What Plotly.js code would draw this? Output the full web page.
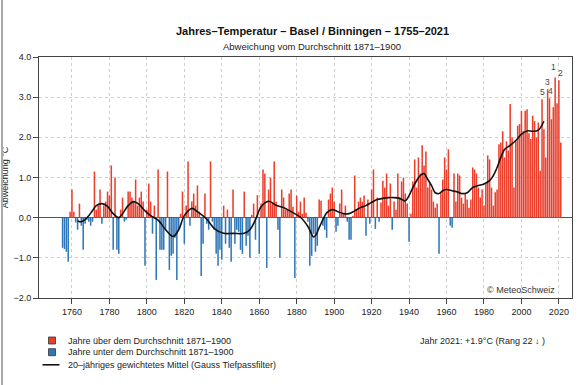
<!DOCTYPE html>
<html>
<head>
<meta charset="utf-8">
<script src="https://cdn.plot.ly/plotly-3.0.1.min.js"></script>
<style>
  html, body { margin: 0; padding: 0; background: #fff; }
  #chart { width: 582px; height: 385px; }
  #edge { position: absolute; left: 1px; top: 0; width: 2px; height: 385px; background: #aaa; }
</style>
</head>
<body>
<div id="chart"></div>
<div id="edge"></div>
<script>
// ---- Data (annual temperature anomaly vs 1871-1900, °C) ----
const firstYear = 1755;
const anomalies = [
  // 1755-1764
  -0.75, -0.78, -0.85, -1.10, 0.15, 0.70, 0.15, -0.12, -0.30, 0.35,
  // 1765-1774
  -0.20, -0.80, -0.15, -0.05, -0.10, -0.20, -0.10, 1.15, 0.20, 0.30,
  // 1775-1784
  0.70, -0.15, 0.30, 0.40, 0.65, 0.55, 1.30, -0.80, 1.00, -0.80,
  // 1785-1794
  -0.90, 0.20, 0.50, -0.10, -0.05, 0.65, 0.65, 0.50, 0.40, 0.95,
  // 1795-1804
  0.30, 0.50, 0.65, 0.40, -1.20, 0.20, 0.85, 0.40, -0.40, 0.30,
  // 1805-1814
  -1.55, 1.20, -0.80, -0.80, -0.80, -0.30, 1.15, -1.30, -0.95, -0.90,
  // 1815-1824
  -0.50, -1.55, -0.30, 0.10, 0.65, -0.65, 0.30, 1.40, -0.20, 0.40,
  // 1825-1834
  0.60, 0.30, 0.80, 0.15, -1.45, -0.65, 0.60, -0.15, -0.30, 1.40,
  // 1835-1844
  -0.10, -0.30, -0.90, -1.20, -0.80, -1.05, 0.30, -0.65, 0.20, -0.75,
  // 1845-1854
  -1.10, 0.70, -0.65, -0.30, -0.35, -0.80, -0.90, 0.65, -0.70, -0.45,
  // 1855-1864
  -1.00, 0.07, 0.35, -0.55, 0.56, -0.90, 0.35, 1.20, 1.10, -1.25,
  // 1865-1874
  0.70, 1.00, 0.35, 1.40, 0.40, -0.30, -1.00, 0.70, 0.50, 0.20,
  // 1875-1884
  0.20, 0.60, 0.70, 0.27, -1.50, 0.55, 0.15, 0.40, 0.10, 0.50,
  // 1885-1894
  0.12, -0.10, -1.20, -0.95, -0.40, -0.85, -0.70, 0.45, 0.42, -0.20,
  // 1895-1904
  -0.30, -0.50, 0.45, 0.60, 0.75, 0.40, -0.35, -0.20, 0.35, 0.70,
  // 1905-1914
  0.10, 0.30, -0.10, -0.55, -0.55, 0.05, 1.05, 0.20, 0.40, 0.50,
  // 1915-1924
  0.40, 0.55, -0.45, 0.45, -0.15, 0.70, 1.20, -0.28, 0.50, -0.10,
  // 1925-1934
  0.38, 0.92, 0.75, 1.10, 0.30, 0.85, -0.30, 0.40, 0.20, 1.10,
  // 1935-1944
  0.50, 0.90, 1.00, 0.60, 0.35, -0.60, 0.10, 0.90, 1.45, 0.75,
  // 1945-1954
  1.50, 1.10, 1.80, 1.30, 1.65, 0.75, 0.85, 0.70, 0.40, 0.25,
  // 1955-1964
  0.35, -0.90, 0.60, 0.95, 1.50, 1.20, 1.70, -0.20, -0.25, 1.10,
  // 1965-1974
  0.40, 1.10, 1.05, 0.50, 0.35, 0.60, 0.45, 0.25, 0.45, 1.25,
  // 1975-1984
  1.20, 1.10, 0.75, 0.50, 0.70, 0.30, 0.85, 1.55, 1.45, 0.75,
  // 1985-1994
  0.30, 0.63, 0.70, 1.83, 1.87, 2.15, 1.50, 1.90, 1.67, 2.83,
  // 1995-2004
  2.00, 0.75, 1.90, 2.29, 2.33, 2.66, 2.16, 2.66, 2.70, 2.10,
  // 2005-2014
  1.96, 2.54, 2.41, 2.00, 2.37, 1.17, 2.95, 2.20, 1.50, 3.20,
  // 2015-2021
  2.97, 2.45, 2.75, 3.49, 2.85, 3.42, 1.87
];

// 20-year Gaussian low-pass
const smoothYears = [1763,1765,1767,1769,1771,1773,1776,1779,1782,1785,1787,1790,1793,1796,1799,
  1802,1806,1810,1814,1817,1820,1824,1827,1832,1836,1841,1846,1852,1855,1858,1861,1865,1869,
  1874,1877,1882,1886,1889,1890,1892,1894,1896,1899,1902,1905,1908,1911,1914,1917,1920,1923,
  1926,1929,1932,1935,1938,1940,1942,1944,1946,1948,1950,1952,1954,1956,1958,1960,1963,1966,
  1968,1971,1974,1977,1980,1983,1985,1987,1989,1991,1994,1997,2000,2003,2006,2009,2012];
const smoothVals = [-0.08,-0.10,-0.05,0.05,0.18,0.30,0.35,0.28,0.10,0.00,0.10,0.30,0.40,0.32,0.17,
  0.05,-0.06,-0.30,-0.47,-0.30,0.05,0.23,0.15,-0.04,-0.27,-0.39,-0.39,-0.39,-0.30,-0.05,0.27,0.41,0.31,
  0.23,0.15,0.01,-0.22,-0.48,-0.45,-0.25,-0.05,0.12,0.20,0.15,0.10,0.10,0.17,0.25,0.30,0.38,0.45,
  0.48,0.50,0.50,0.48,0.42,0.55,0.75,0.92,1.05,1.10,0.95,0.80,0.62,0.60,0.67,0.70,0.67,0.64,
  0.60,0.62,0.75,0.80,0.84,0.92,1.05,1.25,1.50,1.70,1.80,1.92,2.08,2.16,2.15,2.18,2.40];

// ranking of the warmest years
const rankYears = [2018, 2020, 2014, 2015, 2011];
const rankLabels = ['1', '2', '3', '4', '5'];
const rankShiftX = [-1.5, 1.5, 0, 0.5, 0];
const rankShiftY = [3, 0, 0, 0, 0];

const xTicks = [1760,1780,1800,1820,1840,1860,1880,1900,1920,1940,1960,1980,2000,2020];
const yTicks = [-2, -1, 0, 1, 2, 3, 4];

const RED = '#EB3E2B', BLUE = '#2F77B8';
const FONT = 'Liberation Sans, Arial, sans-serif';

// ---- Build traces ----
const years = anomalies.map((_, i) => firstYear + i);
const colors = anomalies.map(v => v >= 0 ? RED : BLUE);

const bars = {
  type: 'bar', x: years, y: anomalies,
  marker: { color: colors, line: { width: 0 } },
  hoverinfo: 'x+y', showlegend: false
};
const smooth = {
  type: 'scatter', mode: 'lines', x: smoothYears, y: smoothVals,
  line: { color: '#111', width: 1.6, shape: 'spline', smoothing: 1 },
  showlegend: false, hoverinfo: 'skip'
};

const valueOf = y => anomalies[y - firstYear];

// helpers for pixel -> paper mapping of layout-only decorations
const L = 39, R = 10, T = 57, B = 87, W = 582, H = 385;
const PW = W - L - R, PH = H - T - B;
const px = x => (x - L) / PW;
const py = y => (H - B - y) / PH;

const annotations = [
  { text: '<b>Jahres–Temperatur – Basel / Binningen – 1755–2021</b>', xref: 'paper', yref: 'paper',
    x: px(312), y: py(31), xanchor: 'center', yanchor: 'middle', showarrow: false,
    font: { family: FONT, size: 11, color: '#111' } },
  { text: 'Abweichung vom Durchschnitt 1871–1900', xref: 'paper', yref: 'paper',
    x: px(312), y: py(46.5), xanchor: 'center', yanchor: 'middle', showarrow: false,
    font: { family: FONT, size: 9.5, color: '#222' } },
  { text: '© MeteoSchweiz', xref: 'paper', yref: 'paper',
    x: px(557), y: py(290), xanchor: 'right', yanchor: 'middle', showarrow: false,
    font: { family: FONT, size: 9, color: '#333' } },
  { text: 'Jahr 2021: +1.9°C (Rang 22 ↓ )', xref: 'paper', yref: 'paper',
    x: px(418), y: py(340.6), xanchor: 'left', yanchor: 'middle', showarrow: false,
    font: { family: FONT, size: 9, color: '#222' } },
  { text: 'Jahre über dem Durchschnitt 1871–1900', xref: 'paper', yref: 'paper',
    x: px(66), y: py(340.6), xanchor: 'left', yanchor: 'middle', showarrow: false,
    font: { family: FONT, size: 9, color: '#222' } },
  { text: 'Jahre unter dem Durchschnitt 1871–1900', xref: 'paper', yref: 'paper',
    x: px(66), y: py(352.3), xanchor: 'left', yanchor: 'middle', showarrow: false,
    font: { family: FONT, size: 9, color: '#222' } },
  { text: '20–jähriges gewichtetes Mittel (Gauss Tiefpassfilter)', xref: 'paper', yref: 'paper',
    x: px(66), y: py(364.8), xanchor: 'left', yanchor: 'middle', showarrow: false,
    font: { family: FONT, size: 9, color: '#222' } }
];
rankYears.forEach((yr, i) => {
  annotations.push({
    text: rankLabels[i], x: yr, y: valueOf(yr), xref: 'x', yref: 'y',
    xanchor: 'center', yanchor: 'bottom', xshift: rankShiftX[i], yshift: 1 + rankShiftY[i],
    showarrow: false, borderpad: 0,
    font: { family: FONT, size: 8.5, color: '#444' }
  });
});

const shapes = [
  { type: 'rect', xref: 'paper', yref: 'paper', x0: px(48.5), x1: px(55.5), y0: py(344), y1: py(337),
    fillcolor: RED, line: { color: '#333', width: 0.8 } },
  { type: 'rect', xref: 'paper', yref: 'paper', x0: px(48.5), x1: px(55.5), y0: py(355.7), y1: py(348.7),
    fillcolor: BLUE, line: { color: '#333', width: 0.8 } },
  { type: 'line', xref: 'paper', yref: 'paper', x0: px(42.5), x1: px(59.5), y0: py(364.8), y1: py(364.8),
    line: { color: '#111', width: 1.6 } }
];

const layout = {
  width: W, height: H,
  margin: { l: L, r: R, t: T, b: B, pad: 0 },
  paper_bgcolor: '#fff', plot_bgcolor: '#fff',
  bargap: 0.18,
  font: { family: FONT, size: 9, color: '#222' },
  xaxis: {
    range: [1742.4, 2027], tickvals: xTicks, ticktext: xTicks.map(String),
    ticks: 'outside', ticklen: 5, tickcolor: '#444',
    showline: true, mirror: true, linecolor: '#444', linewidth: 1,
    showgrid: true, gridcolor: '#cfcfcf', griddash: 'dot', gridwidth: 1,
    zeroline: false, tickfont: { family: FONT, size: 9, color: '#222' }
  },
  yaxis: {
    range: [-2, 4], tickvals: yTicks, tickformat: '.1f',
    ticks: 'outside', ticklen: 5, tickcolor: '#444',
    showline: true, mirror: true, linecolor: '#444', linewidth: 1,
    showgrid: true, gridcolor: '#cfcfcf', griddash: 'dot', gridwidth: 1,
    zeroline: true, zerolinecolor: '#555', zerolinewidth: 1,
    tickfont: { family: FONT, size: 9, color: '#222' },
    title: { text: 'Abweichung °C', font: { family: FONT, size: 9, color: '#222' }, standoff: 4 }
  },
  annotations: annotations,
  shapes: shapes
};

Plotly.newPlot('chart', [bars, smooth], layout, { displayModeBar: false, staticPlot: true });
</script>
</body>
</html>
